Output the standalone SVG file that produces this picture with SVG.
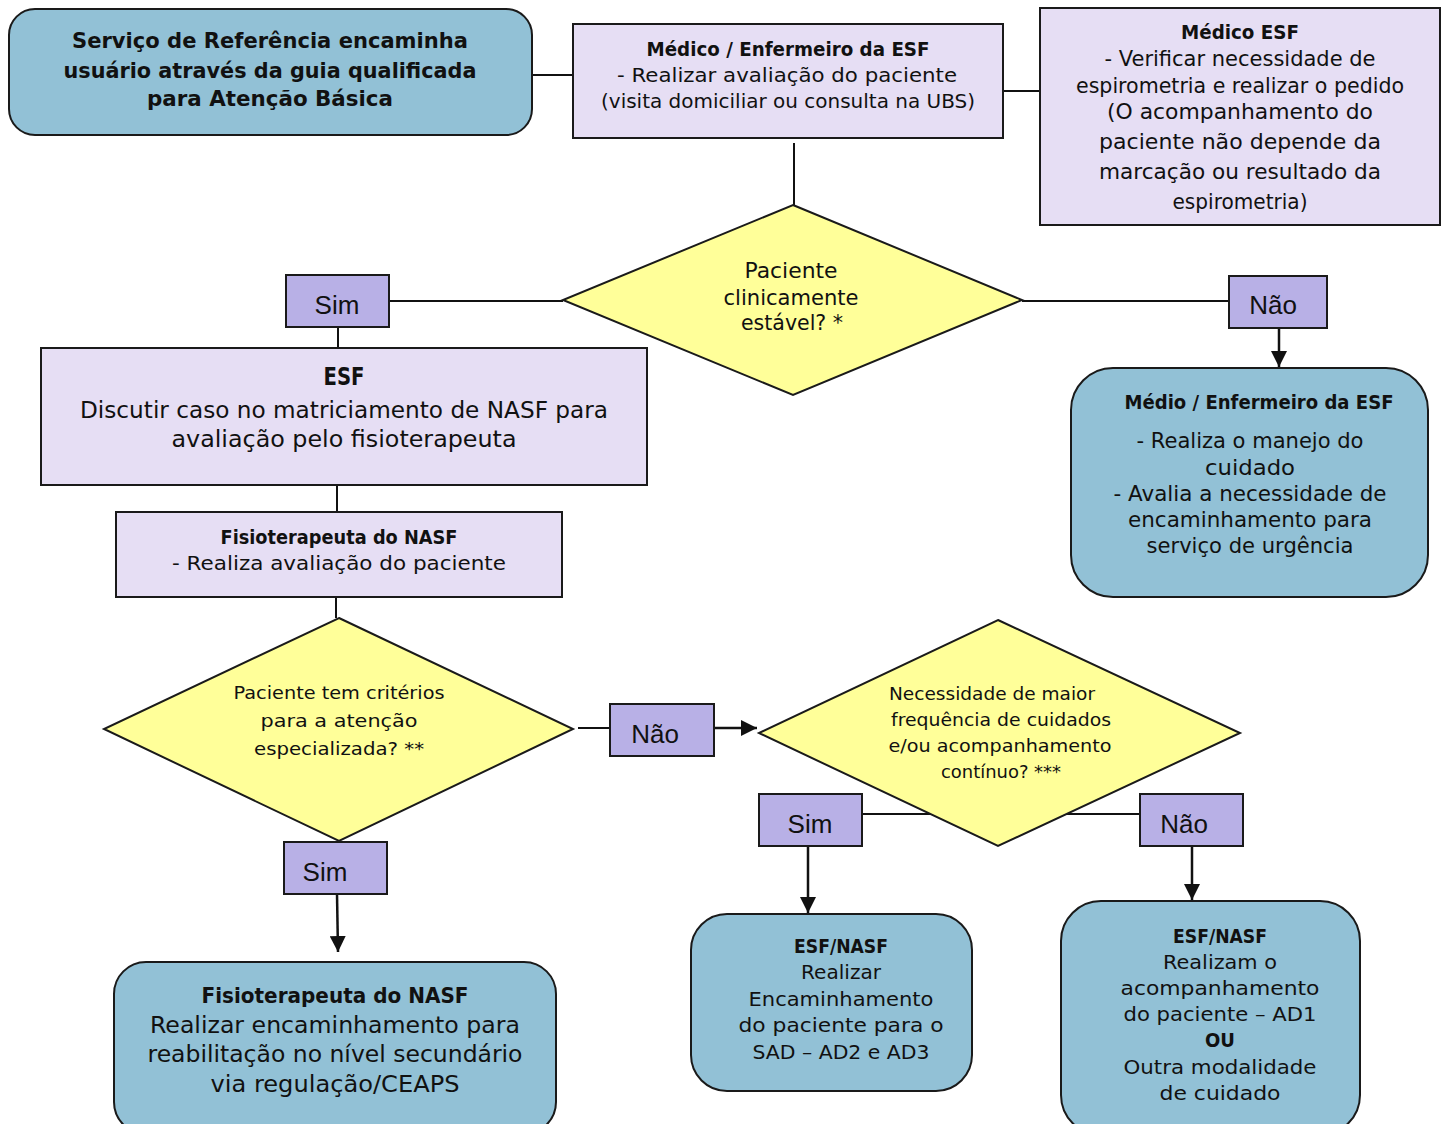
<svg xmlns="http://www.w3.org/2000/svg" width="1448" height="1124" viewBox="0 0 1448 1124">
<style>
text{font-family:"DejaVu Sans","Liberation Sans",sans-serif;fill:#111;text-anchor:middle}
.b{font-weight:bold}
.blue{fill:#92C1D6;stroke:#1a1a1a;stroke-width:2}
.lav{fill:#E6DEF4;stroke:#1a1a1a;stroke-width:2}
.lab{fill:#B8B0E6;stroke:#1a1a1a;stroke-width:2}
.dia{fill:#FFFF99;stroke:#1a1a1a;stroke-width:2}
.ln{stroke:#111;stroke-width:2;fill:none}
.ar{stroke:#111;stroke-width:2.5;fill:none;marker-end:url(#ah)}
.lt{font-family:"Liberation Sans","DejaVu Sans",sans-serif;font-size:26px}
</style>
<defs>
<marker id="ah" markerUnits="userSpaceOnUse" markerWidth="16" markerHeight="16" viewBox="0 0 16 16" refX="16" refY="8" orient="auto">
<path d="M0,0 L16,8 L0,16 Z" fill="#111"/>
</marker>
</defs>
<g id="connectors">
<line class="ln" x1="532" y1="75" x2="573" y2="75"/>
<line class="ln" x1="1003" y1="91" x2="1040" y2="91"/>
<line class="ln" x1="794" y1="143" x2="794" y2="205"/>
<line class="ln" x1="389" y1="301" x2="563" y2="301"/>
<line class="ln" x1="1022" y1="301" x2="1229" y2="301"/>
<line class="ln" x1="338" y1="327" x2="338" y2="348"/>
<line class="ar" x1="1279" y1="328" x2="1279" y2="367"/>
<line class="ln" x1="337" y1="485" x2="337" y2="512"/>
<line class="ln" x1="336" y1="597" x2="336" y2="618"/>
<line class="ln" x1="578" y1="728" x2="610" y2="728"/>
<line class="ar" x1="714" y1="728" x2="757" y2="728"/>
<line class="ln" x1="862" y1="814" x2="1140" y2="814"/>
<line class="ar" x1="808" y1="846" x2="808" y2="913"/>
<line class="ar" x1="1192" y1="846" x2="1192" y2="900"/>
<line class="ar" x1="337" y1="894" x2="338" y2="952"/>
</g>
<g id="n-servico">
<rect class="blue" x="9" y="9" width="523" height="126" rx="26"/>
<text class="b" font-size="22" x="270" y="48" textLength="396" lengthAdjust="spacingAndGlyphs">Serviço de Referência encaminha</text>
<text class="b" font-size="22" x="270" y="78" textLength="413" lengthAdjust="spacingAndGlyphs">usuário através da guia qualificada</text>
<text class="b" font-size="22" x="270" y="106" textLength="246" lengthAdjust="spacingAndGlyphs">para Atenção Básica</text>
</g>
<g id="n-medico-enf">
<rect class="lav" x="573" y="24" width="430" height="114"/>
<text class="b" font-size="20" x="788" y="56" textLength="283" lengthAdjust="spacingAndGlyphs">Médico / Enfermeiro da ESF</text>
<text font-size="20" x="787" y="82" textLength="340" lengthAdjust="spacingAndGlyphs">- Realizar avaliação do paciente</text>
<text font-size="20" x="788" y="108" textLength="374" lengthAdjust="spacingAndGlyphs">(visita domiciliar ou consulta na UBS)</text>
</g>
<g id="n-medico-esf">
<rect class="lav" x="1040" y="8" width="400" height="217"/>
<text class="b" font-size="20" x="1240" y="39" textLength="118" lengthAdjust="spacingAndGlyphs">Médico ESF</text>
<text font-size="21" x="1240" y="66" textLength="271" lengthAdjust="spacingAndGlyphs">- Verificar necessidade de</text>
<text font-size="21" x="1240" y="93" textLength="328" lengthAdjust="spacingAndGlyphs">espirometria e realizar o pedido</text>
<text font-size="21" x="1240" y="119" textLength="266" lengthAdjust="spacingAndGlyphs">(O acompanhamento do</text>
<text font-size="21" x="1240" y="149" textLength="282" lengthAdjust="spacingAndGlyphs">paciente não depende da</text>
<text font-size="21" x="1240" y="179" textLength="282" lengthAdjust="spacingAndGlyphs">marcação ou resultado da</text>
<text font-size="21" x="1240" y="209" textLength="135" lengthAdjust="spacingAndGlyphs">espirometria)</text>
</g>
<g id="d-estavel">
<polygon class="dia" points="793,205 1022,300 793,395 563,300"/>
<text font-size="21" x="791" y="278" textLength="93" lengthAdjust="spacingAndGlyphs">Paciente</text>
<text font-size="21" x="791" y="305" textLength="135" lengthAdjust="spacingAndGlyphs">clinicamente</text>
<text font-size="21" x="792" y="330" textLength="102" lengthAdjust="spacingAndGlyphs">estável? *</text>
</g>
<g id="l-sim1">
<rect class="lab" x="286" y="275" width="103" height="52"/>
<text class="lt" x="337" y="314">Sim</text>
</g>
<g id="l-nao1">
<rect class="lab" x="1229" y="276" width="98" height="52"/>
<text class="lt" x="1273" y="314">Não</text>
</g>
<g id="n-medio">
<rect class="blue" x="1071" y="368" width="357" height="229" rx="42"/>
<text class="b" font-size="20" x="1259" y="409" textLength="269" lengthAdjust="spacingAndGlyphs">Médio / Enfermeiro da ESF</text>
<text font-size="21" x="1250" y="448" textLength="227" lengthAdjust="spacingAndGlyphs">- Realiza o manejo do</text>
<text font-size="21" x="1250" y="475" textLength="90" lengthAdjust="spacingAndGlyphs">cuidado</text>
<text font-size="21" x="1250" y="501" textLength="273" lengthAdjust="spacingAndGlyphs">- Avalia a necessidade de</text>
<text font-size="21" x="1250" y="527" textLength="244" lengthAdjust="spacingAndGlyphs">encaminhamento para</text>
<text font-size="21" x="1250" y="553" textLength="207" lengthAdjust="spacingAndGlyphs">serviço de urgência</text>
</g>
<g id="n-esf">
<rect class="lav" x="41" y="348" width="606" height="137"/>
<text class="b" font-size="24" x="344" y="385" textLength="41" lengthAdjust="spacingAndGlyphs">ESF</text>
<text font-size="23" x="344" y="418" textLength="528" lengthAdjust="spacingAndGlyphs">Discutir caso no matriciamento de NASF para</text>
<text font-size="23" x="344" y="447" textLength="345" lengthAdjust="spacingAndGlyphs">avaliação pelo fisioterapeuta</text>
</g>
<g id="n-fisio">
<rect class="lav" x="116" y="512" width="446" height="85"/>
<text class="b" font-size="20" x="339" y="544" textLength="237" lengthAdjust="spacingAndGlyphs">Fisioterapeuta do NASF</text>
<text font-size="20" x="339" y="570" textLength="334" lengthAdjust="spacingAndGlyphs">- Realiza avaliação do paciente</text>
</g>
<g id="d-criterios">
<polygon class="dia" points="339,618 573,729 339,841 104,729"/>
<text font-size="18" x="339" y="699" textLength="211" lengthAdjust="spacingAndGlyphs">Paciente tem critérios</text>
<text font-size="18" x="339" y="727" textLength="157" lengthAdjust="spacingAndGlyphs">para a atenção</text>
<text font-size="18" x="339" y="755" textLength="170" lengthAdjust="spacingAndGlyphs">especializada? **</text>
</g>
<g id="l-nao2">
<rect class="lab" x="610" y="704" width="104" height="52"/>
<text class="lt" x="655" y="743">Não</text>
</g>
<g id="d-frequencia">
<polygon class="dia" points="998,620 1240,733 998,846 759,733"/>
<text font-size="17" x="992" y="700" textLength="206" lengthAdjust="spacingAndGlyphs">Necessidade de maior</text>
<text font-size="17" x="1001" y="726" textLength="220" lengthAdjust="spacingAndGlyphs">frequência de cuidados</text>
<text font-size="17" x="1000" y="752" textLength="223" lengthAdjust="spacingAndGlyphs">e/ou acompanhamento</text>
<text font-size="17" x="1001" y="778" textLength="120" lengthAdjust="spacingAndGlyphs">contínuo? ***</text>
</g>
<g id="l-sim3">
<rect class="lab" x="759" y="794" width="103" height="52"/>
<text class="lt" x="810" y="833">Sim</text>
</g>
<g id="l-nao3">
<rect class="lab" x="1140" y="794" width="103" height="52"/>
<text class="lt" x="1184" y="833">Não</text>
</g>
<g id="l-sim2">
<rect class="lab" x="284" y="842" width="103" height="52"/>
<text class="lt" x="325" y="881">Sim</text>
</g>
<g id="n-reab">
<rect class="blue" x="114" y="962" width="442" height="172" rx="32"/>
<text class="b" font-size="22" x="335" y="1003" textLength="267" lengthAdjust="spacingAndGlyphs">Fisioterapeuta do NASF</text>
<text font-size="23" x="335" y="1033" textLength="370" lengthAdjust="spacingAndGlyphs">Realizar encaminhamento para</text>
<text font-size="23" x="335" y="1062" textLength="375" lengthAdjust="spacingAndGlyphs">reabilitação no nível secundário</text>
<text font-size="23" x="335" y="1092" textLength="249" lengthAdjust="spacingAndGlyphs">via regulação/CEAPS</text>
</g>
<g id="n-sad">
<rect class="blue" x="691" y="914" width="281" height="177" rx="36"/>
<text class="b" font-size="20" x="841" y="953" textLength="94" lengthAdjust="spacingAndGlyphs">ESF/NASF</text>
<text font-size="20" x="841" y="979" textLength="80" lengthAdjust="spacingAndGlyphs">Realizar</text>
<text font-size="20" x="841" y="1006" textLength="185" lengthAdjust="spacingAndGlyphs">Encaminhamento</text>
<text font-size="20" x="841" y="1032" textLength="205" lengthAdjust="spacingAndGlyphs">do paciente para o</text>
<text font-size="20" x="841" y="1059" textLength="177" lengthAdjust="spacingAndGlyphs">SAD – AD2 e AD3</text>
</g>
<g id="n-ad1">
<rect class="blue" x="1061" y="901" width="299" height="234" rx="40"/>
<text class="b" font-size="20" x="1220" y="943" textLength="94" lengthAdjust="spacingAndGlyphs">ESF/NASF</text>
<text font-size="20" x="1220" y="969" textLength="114" lengthAdjust="spacingAndGlyphs">Realizam o</text>
<text font-size="20" x="1220" y="995" textLength="199" lengthAdjust="spacingAndGlyphs">acompanhamento</text>
<text font-size="20" x="1220" y="1021" textLength="193" lengthAdjust="spacingAndGlyphs">do paciente – AD1</text>
<text class="b" font-size="20" x="1220" y="1047" textLength="30" lengthAdjust="spacingAndGlyphs">OU</text>
<text font-size="20" x="1220" y="1074" textLength="193" lengthAdjust="spacingAndGlyphs">Outra modalidade</text>
<text font-size="20" x="1220" y="1100" textLength="121" lengthAdjust="spacingAndGlyphs">de cuidado</text>
</g>
</svg>
